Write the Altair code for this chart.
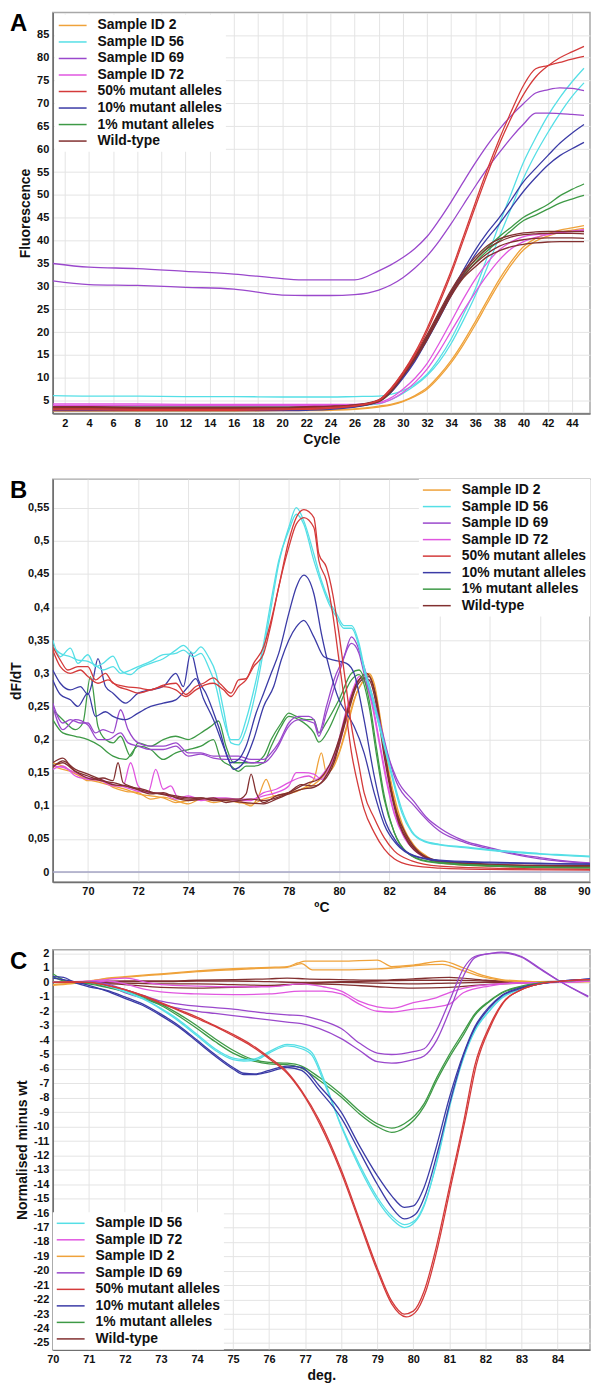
import altair as alt
import pandas as pd

FONT = "Liberation Sans"

SERIES = ["Sample ID 2", "Sample ID 56", "Sample ID 69", "Sample ID 72",
          "50% mutant alleles", "10% mutant alleles", "1% mutant alleles", "Wild-type"]
COLORS = ["#EFA23A", "#55DFE6", "#9A48CC", "#E056E0",
          "#D43A3A", "#3B3BA6", "#3E9A46", "#823030"]
ORDER_C = ["Sample ID 56", "Sample ID 72", "Sample ID 2", "Sample ID 69",
           "50% mutant alleles", "10% mutant alleles", "1% mutant alleles", "Wild-type"]

# ---------------- Panel A : amplification curves ----------------
A_CYCLES = [1, 4, 8, 12, 16, 20, 22, 24, 26, 28, 29, 30, 31, 32, 33, 34, 35, 36, 37, 38, 39, 40, 41, 42, 43, 44, 45]
A_P69_a = [35.0, 34.2, 33.9, 33.3, 32.7, 31.7, 31.4, 31.4, 31.4, 33.4, 34.7, 36.3, 38.3, 40.9, 44.5, 48.5, 52.8, 57.0, 60.9, 64.4, 67.4, 70.0, 72.3, 73.0, 73.4, 73.3, 72.8]
A_P69_b = [31.2, 30.4, 30.2, 29.8, 29.4, 28.1, 28.0, 28.0, 28.2, 29.2, 30.3, 31.9, 34.0, 36.6, 39.9, 43.7, 47.8, 51.9, 55.8, 59.3, 62.6, 65.5, 67.9, 67.9, 67.8, 67.6, 67.4]
A_R50_a = [3.2, 3.2, 3.1, 3.1, 3.1, 3.2, 3.3, 3.5, 3.9, 5.0, 7.4, 10.8, 15.0, 20.2, 26.2, 32.7, 40.0, 47.4, 54.6, 61.2, 67.0, 72.0, 75.8, 78.2, 80.0, 81.3, 82.5]
A_R50_b = [3.0, 3.0, 2.9, 2.9, 2.9, 3.0, 3.1, 3.3, 3.8, 5.1, 7.7, 11.2, 15.5, 20.8, 26.9, 33.4, 40.8, 48.3, 55.6, 62.3, 68.4, 74.0, 77.6, 78.3, 79.0, 79.7, 80.3]
A_S56_a = [6.1, 6.0, 6.0, 5.9, 5.9, 5.8, 5.8, 5.8, 5.9, 6.0, 6.4, 7.2, 8.6, 10.8, 14.2, 18.5, 23.8, 29.4, 36.5, 43.7, 50.5, 57.2, 62.5, 67.3, 71.3, 74.7, 77.7]
A_S56_b = [3.9, 3.9, 3.8, 3.8, 3.8, 3.8, 3.8, 3.8, 3.9, 4.3, 5.2, 6.6, 8.3, 10.5, 13.5, 17.5, 22.5, 28.0, 34.3, 40.9, 47.3, 53.7, 59.0, 63.6, 67.8, 71.5, 74.5]
A_B10_a = [3.0, 3.0, 3.0, 3.0, 3.0, 3.0, 3.1, 3.3, 3.7, 5.0, 7.0, 10.2, 14.0, 18.7, 23.7, 28.7, 33.5, 38.0, 41.8, 45.1, 49.0, 52.9, 55.8, 58.6, 61.3, 63.5, 65.4]
A_B10_b = [2.8, 2.8, 2.8, 2.8, 2.8, 2.8, 2.9, 3.1, 3.6, 4.9, 6.8, 9.9, 13.6, 18.2, 23.0, 28.0, 32.7, 37.0, 40.5, 43.7, 47.3, 50.8, 53.8, 56.5, 58.6, 60.1, 61.5]
A_G1_a = [3.4, 3.4, 3.3, 3.3, 3.3, 3.3, 3.4, 3.5, 3.8, 4.9, 7.0, 10.6, 14.4, 18.7, 23.7, 28.7, 32.5, 35.8, 38.5, 40.9, 43.0, 45.1, 46.5, 47.9, 49.8, 51.2, 52.4]
A_G1_b = [3.2, 3.2, 3.2, 3.2, 3.2, 3.2, 3.3, 3.4, 3.7, 4.8, 6.8, 10.3, 14.0, 18.3, 23.2, 28.2, 32.0, 35.2, 37.8, 40.0, 42.3, 44.4, 45.6, 46.9, 48.2, 49.1, 49.9]
A_WT_a = [3.6, 3.6, 3.5, 3.5, 3.5, 3.5, 3.6, 3.7, 4.0, 5.0, 7.2, 10.8, 14.6, 19.0, 24.0, 28.8, 32.8, 35.8, 38.3, 39.8, 40.8, 41.3, 41.5, 41.6, 41.6, 41.6, 41.5]
A_WT_b = [3.5, 3.5, 3.4, 3.4, 3.4, 3.4, 3.5, 3.6, 3.9, 4.9, 7.0, 10.5, 14.3, 18.6, 23.5, 28.3, 32.2, 35.0, 37.2, 38.8, 39.7, 40.2, 40.5, 40.6, 40.6, 40.6, 40.5]
A_WT_c = [3.3, 3.3, 3.3, 3.3, 3.3, 3.3, 3.4, 3.5, 3.8, 4.8, 6.9, 10.3, 14.0, 18.3, 23.1, 27.9, 31.8, 34.3, 36.5, 37.8, 38.7, 39.2, 39.5, 39.7, 39.8, 39.8, 39.8]
A_WT_d = [3.7, 3.7, 3.6, 3.6, 3.6, 3.6, 3.7, 3.8, 4.1, 5.2, 7.5, 11.1, 15.0, 19.4, 24.4, 29.2, 33.2, 36.4, 38.9, 40.4, 41.2, 41.7, 41.9, 42.0, 42.0, 42.0, 42.0]
A_M72_a = [4.3, 4.3, 4.3, 4.2, 4.2, 4.2, 4.2, 4.2, 4.2, 4.6, 5.6, 7.5, 9.9, 13.1, 17.5, 22.3, 27.2, 31.6, 35.2, 38.0, 39.8, 40.9, 41.3, 41.5, 41.8, 42.1, 42.4]
A_M72_b = [4.0, 4.0, 4.0, 4.0, 4.0, 4.0, 4.0, 4.0, 4.1, 4.4, 5.2, 6.8, 9.0, 11.9, 15.8, 20.2, 24.6, 28.7, 32.5, 35.8, 38.3, 39.8, 40.7, 41.3, 41.7, 42.0, 42.3]
A_O2_a = [2.8, 2.8, 2.8, 2.8, 2.8, 2.9, 2.9, 3.0, 3.2, 3.8, 4.2, 4.9, 6.1, 7.8, 10.5, 13.8, 17.8, 22.3, 27.0, 31.6, 35.5, 38.7, 40.5, 41.5, 42.3, 42.8, 43.3]
A_O2_b = [2.7, 2.7, 2.7, 2.7, 2.7, 2.8, 2.8, 2.9, 3.1, 3.6, 4.0, 4.8, 5.9, 7.5, 10.1, 13.3, 17.2, 21.6, 26.3, 30.8, 34.8, 38.0, 39.9, 41.0, 41.8, 42.3, 42.7]

# ---------------- Panel B : melt derivative (x = ºC, y = dF/dT) ----------------
B_S56_a = [(68.6, 0.35), (68.9, 0.325), (69.3, 0.338), (69.6, 0.315), (70.0, 0.328), (70.3, 0.31), (70.6, 0.315), (71.0, 0.326), (71.3, 0.305), (71.7, 0.298), (72.0, 0.307), (72.5, 0.315), (73.0, 0.322), (73.5, 0.335), (73.8, 0.342), (74.2, 0.33), (74.5, 0.34), (74.8, 0.325), (75.1, 0.30), (75.4, 0.245), (75.7, 0.195), (76.0, 0.192), (76.3, 0.215), (76.7, 0.275), (77.0, 0.335), (77.3, 0.40), (77.6, 0.465), (78.0, 0.52), (78.3, 0.55), (78.6, 0.53), (79.0, 0.48), (79.3, 0.44), (79.6, 0.41), (79.9, 0.39), (80.2, 0.372), (80.5, 0.372), (80.8, 0.345), (81.0, 0.31), (81.3, 0.27), (81.7, 0.21), (82.1, 0.15), (82.5, 0.095), (82.9, 0.062), (83.4, 0.047), (84.0, 0.042), (85.0, 0.038), (86.0, 0.034), (87.0, 0.031), (88.0, 0.028), (89.0, 0.026), (90.0, 0.024)]
B_S56_b = [(68.6, 0.34), (68.9, 0.33), (69.3, 0.325), (69.6, 0.32), (70.0, 0.318), (70.3, 0.312), (70.6, 0.305), (71.0, 0.31), (71.3, 0.30), (71.7, 0.305), (72.0, 0.31), (72.5, 0.318), (73.0, 0.328), (73.5, 0.33), (73.8, 0.335), (74.2, 0.325), (74.5, 0.33), (74.8, 0.31), (75.1, 0.28), (75.4, 0.23), (75.7, 0.20), (76.0, 0.20), (76.3, 0.23), (76.7, 0.29), (77.0, 0.345), (77.3, 0.41), (77.6, 0.47), (78.0, 0.515), (78.3, 0.54), (78.6, 0.525), (79.0, 0.47), (79.3, 0.435), (79.6, 0.405), (79.9, 0.385), (80.2, 0.368), (80.5, 0.368), (80.8, 0.34), (81.0, 0.305), (81.3, 0.265), (81.7, 0.205), (82.1, 0.145), (82.5, 0.09), (82.9, 0.06), (83.4, 0.046), (84.0, 0.041), (85.0, 0.037), (86.0, 0.033), (88.0, 0.027), (90.0, 0.023)]
B_R50_a = [(68.6, 0.34), (68.9, 0.32), (69.2, 0.305), (69.6, 0.31), (70.0, 0.31), (70.3, 0.29), (70.7, 0.30), (71.0, 0.285), (71.5, 0.28), (72.0, 0.278), (72.5, 0.275), (73.0, 0.282), (73.5, 0.285), (73.9, 0.268), (74.3, 0.28), (74.6, 0.285), (75.0, 0.293), (75.3, 0.283), (75.7, 0.27), (76.0, 0.29), (76.3, 0.292), (76.6, 0.315), (77.0, 0.34), (77.3, 0.38), (77.6, 0.43), (78.0, 0.50), (78.3, 0.535), (78.6, 0.547), (79.0, 0.535), (79.2, 0.48), (79.5, 0.46), (79.75, 0.42), (80.0, 0.36), (80.25, 0.29), (80.5, 0.22), (80.8, 0.16), (81.0, 0.12), (81.4, 0.082), (81.8, 0.052), (82.2, 0.032), (82.9, 0.017), (84.0, 0.009), (86.0, 0.006), (88.0, 0.005), (90.0, 0.004)]
B_R50_b = [(68.6, 0.335), (68.9, 0.31), (69.3, 0.30), (69.7, 0.305), (70.0, 0.295), (70.4, 0.285), (70.8, 0.29), (71.2, 0.28), (71.6, 0.275), (72.0, 0.27), (72.5, 0.275), (73.0, 0.28), (73.5, 0.275), (73.9, 0.265), (74.3, 0.275), (74.7, 0.283), (75.0, 0.285), (75.4, 0.275), (75.7, 0.265), (76.0, 0.28), (76.3, 0.29), (76.6, 0.31), (77.0, 0.33), (77.3, 0.375), (77.6, 0.43), (78.0, 0.49), (78.3, 0.525), (78.6, 0.535), (79.0, 0.52), (79.2, 0.47), (79.5, 0.44), (79.75, 0.39), (80.0, 0.32), (80.25, 0.25), (80.5, 0.18), (80.8, 0.125), (81.0, 0.095), (81.4, 0.06), (81.8, 0.035), (82.2, 0.02), (82.9, 0.01), (84.0, 0.006), (86.0, 0.004), (90.0, 0.003)]
B_B10_a = [(68.6, 0.305), (68.9, 0.285), (69.3, 0.275), (69.7, 0.28), (70.0, 0.268), (70.2, 0.29), (70.4, 0.322), (70.7, 0.28), (71.0, 0.27), (71.5, 0.255), (72.0, 0.27), (72.5, 0.275), (73.0, 0.28), (73.5, 0.30), (73.8, 0.28), (74.1, 0.332), (74.4, 0.29), (74.7, 0.27), (75.2, 0.22), (75.7, 0.165), (76.0, 0.17), (76.3, 0.19), (76.7, 0.24), (77.0, 0.27), (77.3, 0.30), (77.6, 0.33), (78.0, 0.39), (78.3, 0.43), (78.6, 0.448), (79.0, 0.42), (79.3, 0.36), (79.6, 0.31), (80.0, 0.26), (80.3, 0.24), (80.6, 0.22), (81.0, 0.18), (81.4, 0.12), (81.8, 0.072), (82.3, 0.042), (83.0, 0.024), (84.0, 0.017), (86.0, 0.014), (88.0, 0.013), (90.0, 0.012)]
B_B10_b = [(68.6, 0.29), (68.9, 0.268), (69.3, 0.26), (69.6, 0.25), (70.0, 0.27), (70.3, 0.235), (70.7, 0.242), (71.0, 0.235), (71.5, 0.23), (72.0, 0.24), (72.5, 0.25), (73.0, 0.255), (73.5, 0.26), (74.0, 0.28), (74.3, 0.292), (74.6, 0.262), (75.0, 0.23), (75.5, 0.18), (75.8, 0.155), (76.2, 0.165), (76.6, 0.20), (77.0, 0.25), (77.4, 0.28), (77.7, 0.32), (78.0, 0.35), (78.3, 0.37), (78.6, 0.38), (79.0, 0.355), (79.4, 0.325), (79.8, 0.32), (80.3, 0.315), (80.6, 0.30), (81.0, 0.23), (81.4, 0.146), (81.8, 0.082), (82.3, 0.045), (83.0, 0.025), (84.0, 0.018), (86.0, 0.015), (88.0, 0.013), (90.0, 0.012)]
B_G1_a = [(68.6, 0.245), (69.0, 0.23), (69.5, 0.215), (69.8, 0.225), (70.1, 0.295), (70.4, 0.22), (70.7, 0.20), (71.0, 0.195), (71.3, 0.205), (71.7, 0.175), (72.0, 0.195), (72.5, 0.19), (73.0, 0.20), (73.5, 0.205), (74.0, 0.20), (74.5, 0.21), (74.9, 0.22), (75.2, 0.228), (75.5, 0.19), (75.8, 0.165), (76.2, 0.165), (76.6, 0.165), (77.0, 0.175), (77.3, 0.20), (77.7, 0.225), (78.0, 0.24), (78.3, 0.235), (78.7, 0.23), (79.0, 0.23), (79.2, 0.21), (79.5, 0.226), (80.0, 0.26), (80.5, 0.30), (80.8, 0.305), (81.2, 0.26), (81.5, 0.186), (81.8, 0.116), (82.2, 0.06), (82.7, 0.03), (83.5, 0.017), (86.0, 0.01), (90.0, 0.007)]
B_G1_b = [(68.6, 0.23), (69.0, 0.21), (69.5, 0.205), (70.0, 0.20), (70.5, 0.19), (70.8, 0.18), (71.0, 0.175), (71.5, 0.17), (72.0, 0.19), (72.5, 0.185), (73.0, 0.17), (73.5, 0.18), (74.0, 0.185), (74.5, 0.19), (75.0, 0.20), (75.3, 0.17), (75.7, 0.16), (76.0, 0.152), (76.3, 0.16), (76.6, 0.16), (77.0, 0.165), (77.3, 0.19), (77.7, 0.22), (78.0, 0.235), (78.4, 0.23), (79.0, 0.21), (79.2, 0.196), (79.6, 0.216), (80.0, 0.25), (80.5, 0.29), (80.8, 0.298), (81.2, 0.25), (81.5, 0.176), (81.8, 0.11), (82.2, 0.06), (82.7, 0.03), (83.5, 0.016), (86.0, 0.009), (90.0, 0.006)]
B_P69_a = [(68.6, 0.255), (69.0, 0.225), (69.3, 0.23), (69.7, 0.225), (70.0, 0.225), (70.3, 0.21), (70.6, 0.215), (71.0, 0.21), (71.3, 0.245), (71.6, 0.215), (72.0, 0.195), (72.5, 0.19), (73.0, 0.19), (73.5, 0.195), (74.0, 0.18), (74.5, 0.18), (75.0, 0.175), (75.5, 0.175), (76.0, 0.175), (76.5, 0.17), (77.0, 0.17), (77.3, 0.18), (77.6, 0.195), (78.0, 0.225), (78.4, 0.235), (78.8, 0.235), (79.0, 0.23), (79.2, 0.21), (79.5, 0.25), (79.8, 0.29), (80.2, 0.325), (80.5, 0.355), (80.7, 0.345), (81.0, 0.31), (81.3, 0.27), (81.7, 0.216), (82.0, 0.171), (82.3, 0.141), (83.0, 0.106), (83.5, 0.082), (84.0, 0.067), (85.0, 0.047), (86.0, 0.037), (87.0, 0.028), (88.0, 0.022), (89.0, 0.017), (90.0, 0.014)]
B_P69_b = [(68.6, 0.25), (69.0, 0.215), (69.5, 0.23), (70.0, 0.222), (70.4, 0.20), (70.8, 0.20), (71.3, 0.21), (71.6, 0.195), (72.0, 0.19), (72.5, 0.185), (73.0, 0.185), (73.5, 0.19), (74.0, 0.175), (74.5, 0.178), (75.0, 0.172), (75.5, 0.17), (76.0, 0.17), (76.5, 0.165), (77.0, 0.165), (77.5, 0.185), (78.0, 0.22), (78.4, 0.23), (79.0, 0.225), (79.2, 0.205), (79.5, 0.24), (80.0, 0.30), (80.5, 0.345), (80.8, 0.33), (81.0, 0.30), (81.4, 0.25), (81.8, 0.195), (82.3, 0.135), (83.0, 0.10), (84.0, 0.062), (85.0, 0.045), (86.0, 0.035), (88.0, 0.02), (90.0, 0.013)]
B_O2_a = [(68.6, 0.165), (69.0, 0.16), (69.5, 0.148), (70.0, 0.14), (70.5, 0.135), (71.0, 0.13), (71.5, 0.125), (72.0, 0.118), (72.5, 0.115), (73.0, 0.112), (73.5, 0.105), (74.0, 0.108), (74.5, 0.11), (75.0, 0.108), (75.5, 0.11), (76.0, 0.108), (76.5, 0.10), (76.8, 0.115), (77.1, 0.14), (77.4, 0.115), (78.0, 0.118), (78.5, 0.125), (79.0, 0.14), (79.3, 0.18), (79.5, 0.15), (79.8, 0.16), (80.1, 0.19), (80.4, 0.23), (80.7, 0.27), (81.0, 0.29), (81.2, 0.30), (81.4, 0.285), (81.7, 0.22), (82.0, 0.15), (82.3, 0.10), (82.6, 0.065), (83.0, 0.04), (83.5, 0.024), (84.0, 0.015), (86.0, 0.01), (90.0, 0.008)]
B_O2_b = [(68.6, 0.16), (69.0, 0.155), (69.5, 0.15), (70.0, 0.138), (70.5, 0.138), (71.0, 0.128), (71.5, 0.122), (72.0, 0.12), (72.5, 0.11), (73.0, 0.113), (73.5, 0.108), (74.0, 0.103), (74.5, 0.11), (75.0, 0.105), (75.5, 0.108), (76.0, 0.105), (76.5, 0.103), (77.0, 0.11), (77.5, 0.115), (78.0, 0.12), (78.5, 0.125), (79.0, 0.132), (79.5, 0.15), (80.0, 0.18), (80.3, 0.22), (80.6, 0.26), (80.9, 0.285), (81.2, 0.298), (81.4, 0.28), (81.7, 0.215), (82.0, 0.145), (82.3, 0.095), (82.6, 0.06), (83.0, 0.038), (83.5, 0.022), (84.0, 0.014), (86.0, 0.009), (90.0, 0.007)]
B_M72_a = [(68.6, 0.155), (69.0, 0.16), (69.5, 0.145), (70.0, 0.14), (70.5, 0.138), (71.0, 0.13), (71.4, 0.13), (71.7, 0.165), (72.0, 0.13), (72.4, 0.12), (72.7, 0.155), (73.0, 0.125), (73.3, 0.13), (73.6, 0.112), (74.0, 0.115), (74.5, 0.11), (75.0, 0.112), (75.5, 0.112), (76.0, 0.11), (76.5, 0.11), (77.0, 0.115), (77.5, 0.12), (78.0, 0.13), (78.3, 0.15), (78.6, 0.15), (79.0, 0.148), (79.3, 0.14), (79.7, 0.165), (80.0, 0.20), (80.3, 0.245), (80.6, 0.28), (80.8, 0.295), (81.0, 0.29), (81.3, 0.26), (81.6, 0.20), (81.9, 0.14), (82.2, 0.09), (82.6, 0.055), (83.0, 0.035), (83.5, 0.022), (84.0, 0.015), (86.0, 0.011), (90.0, 0.009)]
B_M72_b = [(68.6, 0.16), (69.0, 0.158), (69.5, 0.15), (70.0, 0.142), (70.5, 0.14), (71.0, 0.132), (71.5, 0.128), (72.0, 0.122), (72.5, 0.12), (73.0, 0.118), (73.5, 0.11), (74.0, 0.113), (74.5, 0.108), (75.0, 0.11), (75.5, 0.11), (76.0, 0.108), (76.5, 0.108), (77.0, 0.12), (77.5, 0.125), (78.0, 0.135), (78.4, 0.142), (78.8, 0.145), (79.1, 0.14), (79.5, 0.155), (80.0, 0.19), (80.3, 0.235), (80.6, 0.275), (80.8, 0.29), (81.0, 0.288), (81.3, 0.255), (81.6, 0.195), (81.9, 0.135), (82.2, 0.088), (82.6, 0.052), (83.0, 0.033), (83.5, 0.02), (84.0, 0.014), (86.0, 0.01), (90.0, 0.008)]
B_WT_a = [(68.6, 0.165), (69.0, 0.172), (69.4, 0.155), (69.8, 0.145), (70.2, 0.14), (70.6, 0.142), (71.0, 0.138), (71.2, 0.165), (71.4, 0.135), (71.8, 0.128), (72.2, 0.125), (72.6, 0.12), (73.0, 0.118), (73.5, 0.115), (74.0, 0.112), (74.5, 0.112), (75.0, 0.11), (75.5, 0.11), (76.0, 0.11), (76.3, 0.118), (76.5, 0.148), (76.7, 0.12), (77.0, 0.105), (77.5, 0.115), (78.0, 0.12), (78.5, 0.13), (78.8, 0.135), (79.2, 0.14), (79.6, 0.16), (80.0, 0.20), (80.3, 0.24), (80.6, 0.275), (80.9, 0.295), (81.1, 0.30), (81.4, 0.275), (81.7, 0.21), (82.0, 0.14), (82.3, 0.09), (82.7, 0.055), (83.2, 0.03), (84.0, 0.017), (86.0, 0.012), (88.0, 0.01), (90.0, 0.01)]
B_WT_b = [(68.6, 0.16), (69.0, 0.165), (69.5, 0.152), (70.0, 0.145), (70.5, 0.138), (71.0, 0.135), (71.5, 0.13), (72.0, 0.125), (72.5, 0.12), (73.0, 0.117), (73.5, 0.113), (74.0, 0.11), (74.5, 0.112), (75.0, 0.108), (75.5, 0.108), (76.0, 0.106), (76.5, 0.104), (77.0, 0.103), (77.5, 0.11), (78.0, 0.118), (78.5, 0.125), (79.0, 0.128), (79.4, 0.14), (79.8, 0.17), (80.1, 0.21), (80.4, 0.25), (80.7, 0.285), (80.9, 0.293), (81.2, 0.29), (81.5, 0.25), (81.8, 0.175), (82.1, 0.115), (82.4, 0.072), (82.8, 0.042), (83.3, 0.025), (84.0, 0.015), (86.0, 0.01), (88.0, 0.009), (90.0, 0.008)]
B_WT_c = [(68.6, 0.158), (69.0, 0.168), (69.5, 0.155), (70.0, 0.148), (70.5, 0.14), (71.0, 0.132), (71.5, 0.13), (72.0, 0.124), (72.5, 0.118), (73.0, 0.12), (73.5, 0.112), (74.0, 0.108), (74.5, 0.11), (75.0, 0.112), (75.5, 0.105), (76.0, 0.108), (76.5, 0.11), (77.0, 0.108), (77.5, 0.112), (78.0, 0.12), (78.5, 0.132), (79.0, 0.13), (79.4, 0.138), (79.8, 0.165), (80.1, 0.205), (80.4, 0.245), (80.7, 0.28), (80.9, 0.29), (81.2, 0.295), (81.5, 0.26), (81.8, 0.185), (82.1, 0.12), (82.4, 0.075), (82.8, 0.045), (83.3, 0.026), (84.0, 0.016), (86.0, 0.011), (88.0, 0.01), (90.0, 0.009)]

# ---------------- Panel C : difference plot (x = deg., y = normalised minus wt) ----------------
C_R50_a = [(70, 0), (70.5, 0.05), (71, 0), (71.5, -0.2), (72, -0.5), (72.5, -0.9), (73, -1.4), (73.5, -1.9), (74, -2.4), (74.5, -3.0), (75, -3.6), (75.5, -4.3), (76, -5.2), (76.5, -6.2), (76.9, -7.5), (77.4, -9.6), (78, -13.0), (78.5, -16.4), (79, -19.8), (79.4, -22.1), (79.75, -23.0), (80, -22.8), (80.3, -21.4), (80.65, -18.2), (81, -14.2), (81.4, -9.6), (81.7, -5.8), (82.1, -3.1), (82.45, -1.5), (83, -0.5), (83.5, -0.1), (84.05, 0.08), (84.9, 0.2)]
C_R50_b = [(70, 0), (71, 0), (71.5, -0.2), (72, -0.5), (72.5, -0.95), (73, -1.45), (73.5, -1.95), (74, -2.5), (74.5, -3.05), (75, -3.7), (75.5, -4.4), (76, -5.3), (76.5, -6.3), (76.9, -7.6), (77.4, -9.8), (78, -13.2), (78.5, -16.6), (79, -20.0), (79.4, -22.3), (79.8, -23.2), (80.05, -22.9), (80.35, -21.4), (80.7, -18.1), (81.05, -14.0), (81.45, -9.4), (81.75, -5.7), (82.15, -3.0), (82.5, -1.4), (83, -0.5), (83.5, -0.1), (84.05, 0.08), (84.9, 0.2)]
C_B10_a = [(70, 0.4), (70.3, 0.35), (70.6, 0.0), (71, -0.3), (71.5, -0.55), (72, -1.0), (72.5, -1.5), (73, -2.2), (73.5, -3.0), (74, -4.0), (74.5, -5.0), (75, -5.9), (75.3, -6.3), (75.6, -6.35), (76, -6.1), (76.5, -5.8), (76.9, -5.9), (77.4, -7.2), (78, -9.0), (78.5, -11.3), (79, -13.4), (79.4, -14.8), (79.75, -15.6), (80.0, -15.5), (80.3, -14.2), (80.65, -11.3), (81, -8.0), (81.4, -4.9), (81.7, -3.1), (82.1, -1.7), (82.45, -0.9), (83, -0.35), (83.5, -0.1), (84.05, 0.08), (84.9, 0.25)]
C_B10_b = [(70, 0.3), (70.5, 0.1), (71, -0.2), (71.5, -0.6), (72, -1.1), (72.5, -1.6), (73, -2.3), (73.5, -3.1), (74, -4.1), (74.5, -5.1), (75, -6.0), (75.3, -6.4), (75.6, -6.4), (76, -6.2), (76.5, -5.9), (76.9, -6.1), (77.4, -7.5), (78, -9.4), (78.5, -11.7), (79, -14.0), (79.4, -15.6), (79.75, -16.4), (80.05, -16.1), (80.35, -14.6), (80.7, -11.5), (81.05, -8.0), (81.4, -5.0), (81.7, -3.2), (82.1, -1.8), (82.45, -0.95), (83, -0.4), (83.5, -0.1), (84.05, 0.08), (84.9, 0.25)]
C_S56_a = [(70, 0), (71, 0), (71.5, -0.2), (72, -0.6), (72.5, -1.1), (73, -1.8), (73.5, -2.6), (74, -3.6), (74.5, -4.6), (75, -5.25), (75.3, -5.35), (75.6, -5.3), (76, -4.8), (76.5, -4.3), (76.9, -4.45), (77.2, -4.9), (77.5, -6.6), (78, -10.0), (78.5, -12.8), (79, -15.1), (79.4, -16.4), (79.75, -17.0), (80.05, -16.6), (80.3, -15.5), (80.65, -12.4), (81, -8.5), (81.4, -5.1), (81.7, -3.3), (82.1, -2.0), (82.45, -1.05), (83, -0.45), (83.5, -0.1), (84.05, 0.08), (84.9, 0.2)]
C_S56_b = [(70, 0), (71, 0), (71.5, -0.25), (72, -0.65), (72.5, -1.15), (73, -1.85), (73.5, -2.7), (74, -3.7), (74.5, -4.7), (75, -5.35), (75.3, -5.45), (75.6, -5.4), (76, -4.9), (76.5, -4.4), (76.9, -4.6), (77.2, -5.1), (77.5, -6.8), (78, -9.9), (78.5, -12.6), (79, -14.9), (79.4, -16.2), (79.75, -16.8), (80.05, -16.5), (80.3, -15.4), (80.65, -12.5), (81, -8.7), (81.4, -5.2), (81.7, -3.4), (82.1, -2.0), (82.45, -1.1), (83, -0.45), (83.5, -0.1), (84.05, 0.08), (84.9, 0.2)]
C_G1_a = [(70, 0.6), (70.2, 0.3), (70.5, 0.0), (71, -0.05), (71.5, -0.3), (72, -0.6), (72.5, -1.0), (73, -1.5), (73.5, -2.2), (74, -3.0), (74.5, -3.9), (75, -4.7), (75.5, -5.3), (76, -5.55), (76.5, -5.6), (76.9, -5.8), (77.4, -6.6), (78, -7.75), (78.5, -8.9), (79, -9.8), (79.4, -10.1), (79.75, -9.8), (80.3, -8.4), (80.65, -6.6), (81, -5.0), (81.4, -3.4), (81.7, -2.2), (82.1, -1.3), (82.45, -0.7), (83, -0.25), (83.5, -0.05), (84.05, 0.08), (84.9, 0.2)]
C_G1_b = [(70, 0.4), (70.3, 0.1), (70.6, 0.0), (71, -0.1), (71.5, -0.35), (72, -0.65), (72.5, -1.1), (73, -1.6), (73.5, -2.35), (74, -3.2), (74.5, -4.1), (75, -4.9), (75.5, -5.4), (76, -5.65), (76.5, -5.7), (76.9, -5.95), (77.4, -6.8), (78, -7.95), (78.5, -9.1), (79, -10.0), (79.4, -10.4), (79.75, -10.1), (80.3, -8.6), (80.65, -6.8), (81, -5.2), (81.4, -3.6), (81.7, -2.3), (82.1, -1.35), (82.45, -0.75), (83, -0.3), (83.5, -0.05), (84.05, 0.08), (84.9, 0.2)]
C_P69_a = [(70, 0), (71, 0.05), (71.5, -0.1), (72, -0.5), (72.5, -0.9), (73, -1.3), (73.5, -1.5), (74, -1.65), (74.5, -1.75), (75, -1.85), (75.5, -2.0), (76, -2.15), (76.5, -2.25), (76.9, -2.3), (77.4, -2.6), (78, -3.2), (78.5, -4.2), (79, -4.9), (79.4, -5.0), (80, -4.8), (80.3, -4.6), (80.65, -3.3), (81, -1.3), (81.4, 1.0), (81.7, 1.8), (82.1, 2.0), (82.45, 2.1), (83, 1.8), (83.5, 1.0), (84.05, 0.1), (84.85, -1.0)]
C_P69_b = [(70, 0), (71, 0), (71.5, -0.2), (72, -0.7), (72.5, -1.1), (73, -1.5), (73.5, -1.8), (74, -2.0), (74.5, -2.15), (75, -2.3), (75.5, -2.45), (76, -2.6), (76.5, -2.75), (76.9, -2.86), (77.4, -3.2), (78, -3.9), (78.5, -4.7), (79, -5.5), (79.4, -5.6), (80, -5.35), (80.3, -5.1), (80.65, -4.0), (81, -2.0), (81.4, 0.5), (81.7, 1.7), (82.1, 2.0), (82.45, 2.05), (83, 1.75), (83.5, 0.95), (84.05, 0.1), (84.85, -0.95)]
C_M72_a = [(70, 0), (71, 0.1), (71.5, 0.2), (72, 0.3), (72.3, 0.2), (72.6, 0.0), (73, -0.15), (74, -0.25), (75, -0.3), (76, -0.3), (76.9, -0.1), (77.5, -0.3), (78, -0.6), (78.5, -1.3), (79, -1.7), (79.4, -1.8), (80, -1.4), (80.65, -1.05), (81, -0.7), (81.4, -0.4), (82.1, -0.15), (82.8, -0.04), (84, 0), (84.9, 0.1)]
C_M72_b = [(70, 0), (71, 0), (71.5, 0.1), (72, -0.1), (72.5, -0.45), (73, -0.65), (74, -0.8), (75, -0.85), (76, -0.8), (76.9, -0.6), (77.5, -0.6), (78, -0.8), (78.5, -1.5), (79, -2.0), (79.4, -2.05), (80, -1.85), (80.65, -1.7), (81, -1.5), (81.4, -0.7), (82.1, -0.25), (82.8, -0.05), (84, 0), (84.9, 0.1)]
C_O2_a = [(70, -0.2), (70.5, -0.1), (71, 0.05), (71.5, 0.3), (72, 0.4), (72.5, 0.5), (73, 0.6), (73.5, 0.7), (74, 0.8), (74.5, 0.88), (75, 0.95), (75.5, 1.0), (76, 1.05), (76.5, 1.1), (76.8, 1.35), (77, 1.48), (78, 1.48), (79, 1.55), (79.4, 1.1), (80, 1.2), (80.8, 1.48), (81.4, 1.0), (81.9, 0.5), (82.45, 0.2), (83, 0.1), (84, 0), (84.9, 0.05)]
C_O2_b = [(70, -0.15), (70.5, -0.05), (71, 0.1), (71.5, 0.25), (72, 0.35), (72.5, 0.45), (73, 0.55), (73.5, 0.65), (74, 0.75), (74.5, 0.82), (75, 0.88), (75.5, 0.95), (76, 1.0), (76.5, 1.05), (76.9, 1.3), (77.2, 0.87), (78, 0.87), (79, 0.94), (79.4, 1.0), (80, 1.15), (80.8, 1.25), (81.4, 0.8), (81.9, 0.4), (82.45, 0.15), (83, 0.05), (84, 0), (84.9, 0.05)]
C_WT_a = [(70, 0), (71, 0.05), (72, 0.1), (73, 0.1), (74, 0.15), (75, 0.2), (76, 0.25), (76.5, 0.3), (77, 0.25), (78, 0.2), (79, 0.15), (80, 0.25), (81, 0.35), (82, 0.15), (83, 0.05), (84, 0.05), (84.9, 0.15)]
C_WT_b = [(70, 0), (71, -0.05), (72, -0.15), (73, -0.35), (74, -0.4), (75, -0.35), (76, -0.25), (77, -0.1), (78, -0.15), (79, -0.3), (80, -0.4), (81, -0.35), (82, -0.15), (83, -0.05), (84, 0.05), (84.9, 0.1)]
C_WT_c = [(70, 0.05), (71, 0.05), (72, 0.05), (73, 0.05), (74, 0.1), (75, 0.1), (76, 0.05), (77, 0), (78, 0.05), (79, 0.1), (80, 0.15), (81, 0.15), (82, 0.1), (83, 0.05), (84, 0.08), (84.9, 0.15)]
C_WT_d = [(70, 0), (71, 0), (72, -0.05), (73, -0.1), (74, -0.1), (75, -0.15), (76, -0.2), (77, -0.1), (78, 0), (79, -0.05), (80, -0.1), (81, -0.05), (82, 0), (83, 0), (84, 0.05), (84.9, 0.12)]

# tick values
A_XTICKS = list(range(2, 46, 2))
A_YTICKS = list(range(5, 90, 5))
B_XTICKS = list(range(70, 92, 2))
B_YTICKS = [0, 0.05, 0.1, 0.15, 0.2, 0.25, 0.3, 0.35, 0.4, 0.45, 0.5, 0.55]
C_XTICKS = list(range(70, 85))
C_YTICKS = list(range(-25, 3))


def grid_rows(xs, ys, series, rep):
    return [{"x": a, "y": b, "series": series, "rep": rep} for a, b in zip(xs, ys)]


def pair_rows(pairs, series, rep):
    return [{"x": a, "y": b, "series": series, "rep": rep} for a, b in pairs]


rowsA = []
for ys, s, r in [(A_O2_a, SERIES[0], "a"), (A_O2_b, SERIES[0], "b"),
                 (A_S56_a, SERIES[1], "a"), (A_S56_b, SERIES[1], "b"),
                 (A_P69_a, SERIES[2], "a"), (A_P69_b, SERIES[2], "b"),
                 (A_M72_a, SERIES[3], "a"), (A_M72_b, SERIES[3], "b"),
                 (A_G1_a, SERIES[6], "a"), (A_G1_b, SERIES[6], "b"),
                 (A_B10_a, SERIES[5], "a"), (A_B10_b, SERIES[5], "b"),
                 (A_WT_a, SERIES[7], "a"), (A_WT_b, SERIES[7], "b"),
                 (A_WT_c, SERIES[7], "c"), (A_WT_d, SERIES[7], "d"),
                 (A_R50_a, SERIES[4], "a"), (A_R50_b, SERIES[4], "b")]:
    rowsA += grid_rows(A_CYCLES, ys, s, r)
dfA = pd.DataFrame(rowsA)

rowsB = []
for pr, s, r in [(B_O2_a, SERIES[0], "a"), (B_O2_b, SERIES[0], "b"),
                 (B_M72_a, SERIES[3], "a"), (B_M72_b, SERIES[3], "b"),
                 (B_WT_a, SERIES[7], "a"), (B_WT_b, SERIES[7], "b"), (B_WT_c, SERIES[7], "c"),
                 (B_G1_a, SERIES[6], "a"), (B_G1_b, SERIES[6], "b"),
                 (B_P69_a, SERIES[2], "a"), (B_P69_b, SERIES[2], "b"),
                 (B_B10_a, SERIES[5], "a"), (B_B10_b, SERIES[5], "b"),
                 (B_S56_a, SERIES[1], "a"), (B_S56_b, SERIES[1], "b"),
                 (B_R50_a, SERIES[4], "a"), (B_R50_b, SERIES[4], "b")]:
    rowsB += pair_rows(pr, s, r)
dfB = pd.DataFrame(rowsB)

rowsC = []
for pr, s, r in [(C_WT_a, SERIES[7], "a"), (C_WT_b, SERIES[7], "b"),
                 (C_WT_c, SERIES[7], "c"), (C_WT_d, SERIES[7], "d"),
                 (C_O2_a, SERIES[0], "a"), (C_O2_b, SERIES[0], "b"),
                 (C_M72_a, SERIES[3], "a"), (C_M72_b, SERIES[3], "b"),
                 (C_P69_a, SERIES[2], "a"), (C_P69_b, SERIES[2], "b"),
                 (C_G1_a, SERIES[6], "a"), (C_G1_b, SERIES[6], "b"),
                 (C_S56_a, SERIES[1], "a"), (C_S56_b, SERIES[1], "b"),
                 (C_B10_a, SERIES[5], "a"), (C_B10_b, SERIES[5], "b"),
                 (C_R50_a, SERIES[4], "a"), (C_R50_b, SERIES[4], "b")]:
    rowsC += pair_rows(pr, s, r)
dfC = pd.DataFrame(rowsC)

COLOR_OF = dict(zip(SERIES, COLORS))
W = 540
LETTER_X = -43


def axis(values, title, label_expr=None, flush=False):
    kw = dict(values=values, title=title, grid=True, gridColor="#e4e4e4", gridWidth=1,
              domain=True, domainColor="#707070", domainWidth=1.5,
              ticks=False, labelFont=FONT, labelFontSize=11,
              labelFontWeight="bold", labelColor="#111111", labelPadding=4,
              labelFlush=flush, labelOverlap=False,
              titleFont=FONT, titleFontSize=14, titleFontWeight="bold",
              titleColor="#111111", titlePadding=4)
    if label_expr:
        kw["labelExpr"] = label_expr
    return alt.Axis(**kw)


def panel(df, letter, xdom, ydom, xticks, yticks, xtitle, ytitle, legend_pos, order,
          height, ylabel_expr=None, zero_rule=False, xflush=False):
    cscale = alt.Scale(domain=order, range=[COLOR_OF[s] for s in order])
    xenc = alt.X("x:Q", scale=alt.Scale(domain=xdom, nice=False, zero=False),
                 axis=axis(xticks, xtitle, flush=xflush))
    yenc = alt.Y("y:Q", scale=alt.Scale(domain=ydom, nice=False, zero=False),
                 axis=axis(yticks, ytitle, ylabel_expr))
    lines = alt.Chart(df).mark_line(strokeWidth=1.3, clip=True, interpolate="monotone").encode(
        x=xenc, y=yenc,
        color=alt.Color("series:N", scale=cscale,
                        legend=alt.Legend(title=None, offset=0, padding=3,
                                          fillColor="white", symbolType="M-2,0H2",
                                          symbolSize=196, symbolStrokeWidth=1.5,
                                          symbolOffset=7, labelOffset=17,
                                          labelFont=FONT, labelFontSize=14,
                                          labelFontWeight="bold", labelColor="#111111",
                                          rowPadding=1.6, labelLimit=300, **legend_pos)),
        detail="rep:N",
    )
    layers = [lines]
    if zero_rule:
        layers.append(alt.Chart(pd.DataFrame({"y": [0.0]})).mark_rule(
            color="#a4a4c4", strokeWidth=1.5).encode(y=yenc))
    layers.append(alt.Chart(pd.DataFrame({"t": [letter]})).mark_text(
        align="left", baseline="top", fontSize=24, fontWeight="bold", font=FONT,
        color="#000000").encode(text="t:N", x=alt.value(LETTER_X), y=alt.value(0)))
    return alt.layer(*layers).properties(width=W, height=height)


pA = panel(dfA, "A", [1, 45.5], [2.2, 89.9], A_XTICKS, A_YTICKS, "Cycle", "Fluorescence",
           dict(orient="none", legendX=2, legendY=2), SERIES, 403)
pB = panel(dfB, "B", [68.6, 90], [-0.015, 0.593], B_XTICKS, B_YTICKS, "ºC", "dF/dT",
           dict(orient="top-right"), SERIES, 405,
           ylabel_expr="replace(format(datum.value, '.2~f'), '.', ',')", zero_rule=True,
           xflush=True)
pC = panel(dfC, "C", [70, 84.9], [-25.47, 2.27], C_XTICKS, C_YTICKS, "deg.",
           "Normalised minus wt", dict(orient="bottom-left"), ORDER_C, 402,
           ylabel_expr="'' + datum.value")

chart = alt.vconcat(pA, pB, pC, spacing=31).resolve_scale(
    color="independent", x="independent", y="independent"
).resolve_legend(color="independent").properties(padding=0).configure_view(
    stroke="#a8a8a8", strokeWidth=1.5
)

chart.save("out.html", embed_options={"renderer": "svg", "actions": False})
